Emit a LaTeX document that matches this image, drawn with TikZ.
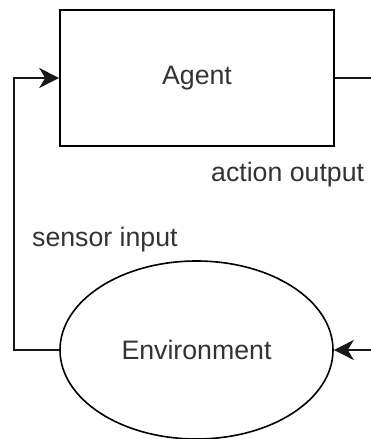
\documentclass[tikz,border=0pt]{standalone}
\usepackage{fontspec}
\setmainfont{Liberation Sans}
\usetikzlibrary{arrows.meta,shapes.geometric}

\begin{document}
\begin{tikzpicture}
[x=1pt, y=1pt,
agentnode/.style={rectangle, draw=black, line width=1.6pt, minimum width=274pt, minimum height=136pt, inner sep=0pt, font=\fontsize{26.7}{32}\selectfont, text=black!80},
worldnode/.style={ellipse, draw=black, line width=1.6pt, minimum width=273pt, minimum height=178pt, inner sep=0pt, font=\fontsize{26.7}{32}\selectfont, text=black!80},
labelnode/.style={inner sep=0pt, font=\fontsize{26.7}{32}\selectfont, text=black!80},
plain/.style={line width=1.6pt, draw=black!90},
connect/.style={-{Stealth[length=20pt,width=20pt,inset=6pt]}, line width=1.6pt, draw=black!90}]
\useasboundingbox (0,0) rectangle (371,439);
\node[agentnode]	(agent) at (197,361) {Agent};
\node[worldnode]	(environment) at (196.5,89) {Environment};
\node[labelnode, anchor=base west]	(actionlabel) at (211,257) {action output};
\node[labelnode, anchor=base west]	(sensorlabel) at (32,192) {sensor input};
\coordinate (actionout) at (371,361);
\coordinate (actionin) at (371,89);
\draw[connect] (environment.west) -- ++(-45,0) |- (agent.west);
\draw[plain] (agent.east) -- (actionout);
\draw[connect] (actionin) -- (environment.east);
\end{tikzpicture}
\end{document}
